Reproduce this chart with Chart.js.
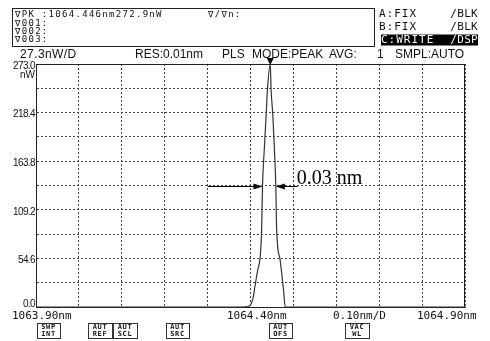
<!DOCTYPE html>
<html>
<head>
<meta charset="utf-8">
<script src="https://cdn.jsdelivr.net/npm/chart.js@4/dist/chart.umd.min.js"></script>
<style>
  html, body { margin: 0; background: #fff; }
  #wrap { width: 490px; height: 341px; }
</style>
</head>
<body>
<div id="wrap"><canvas id="osaChart"></canvas></div>
<script>
// spectrum trace (nm, nW)
const wavelengthNm = [1063.90, 1064.38, 1064.395, 1064.399, 1064.405, 1064.411, 1064.417, 1064.4225, 1064.426, 1064.428,
  1064.4325, 1064.4365, 1064.4395, 1064.446, 1064.448, 1064.452, 1064.4555, 1064.459, 1064.461, 1064.469,
  1064.477, 1064.481, 1064.90];
const powerNW = [0, 0, 0.5, 2, 8, 25, 42, 56, 88, 136,
  180, 216, 244, 272.9, 244, 216, 180, 136, 86, 53,
  19, 0, 0];

const xGridNm = [1063.90, 1064.00, 1064.10, 1064.20, 1064.30, 1064.40, 1064.50, 1064.60, 1064.70, 1064.80, 1064.90];
const yGridNW = [0, 27.3, 54.6, 81.9, 109.2, 136.5, 163.8, 191.1, 218.4, 245.7, 273.0];
const yTickValues = [0, 54.6, 109.2, 163.8, 218.4, 273.0];
const yTickLabels = ["0.0", "54.6", "109.2", "163.8", "218.4", "273.0"];
const xTickLabels = ["1063.90nm", "1064.40nm", "0.10nm/D", "1064.90nm"];

const peakNm = 1064.446;
const halfMaxNW = 136.5;
const fwhmLeftNm = 1064.428;
const fwhmRightNm = 1064.459;
const fwhmText = "0.03 nm";

const MONO = '"DejaVu Sans Mono", monospace';
const SANS = '"Liberation Sans", Arial, sans-serif';

function txt(ctx, s, x, y, font, opts = {}) {
  ctx.save();
  ctx.font = font;
  ctx.fillStyle = opts.color || "#111";
  ctx.textAlign = opts.align || "left";
  ctx.textBaseline = opts.baseline || "middle";
  ctx.letterSpacing = opts.spacing || "0px";
  ctx.fillText(s, x, y);
  ctx.restore();
}

function arrowHead(ctx, x, y, dir) {
  ctx.beginPath();
  ctx.moveTo(x, y);
  ctx.lineTo(x - dir * 9, y - 3);
  ctx.lineTo(x - dir * 9, y + 3);
  ctx.closePath();
  ctx.fill();
}

const screenPlugin = {
  id: "screen",
  afterDraw(chart) {
    const { ctx, chartArea: a, scales: { x: xs, y: ys } } = chart;
    ctx.save();

    // frame round the plot
    ctx.strokeStyle = "#222";
    ctx.lineWidth = 1;
    ctx.strokeRect(a.left + 0.5, a.top + 0.5, a.right - a.left - 1, a.bottom - a.top);

    // header box
    ctx.strokeRect(12.5, 8.5, 362, 38);
    const small = "9px " + MONO;
    txt(ctx, "\u2207PK :1064.446nm272.9nW", 15, 15, small, { spacing: "1.3px" });
    txt(ctx, "\u2207001:", 15, 23.5, small, { spacing: "1.3px" });
    txt(ctx, "\u2207002:", 15, 31.5, small, { spacing: "1.3px" });
    txt(ctx, "\u2207003:", 15, 39.5, small, { spacing: "1.3px" });
    txt(ctx, "\u2207/\u2207n:", 208, 15, small, { spacing: "1.3px" });

    const trace = "11px " + MONO;
    txt(ctx, "A:FIX", 379, 14, trace, { spacing: "1px" });
    txt(ctx, "/BLK", 478, 14, trace, { align: "right", spacing: "0.3px" });
    txt(ctx, "B:FIX", 379, 27, trace, { spacing: "1px" });
    txt(ctx, "/BLK", 478, 27, trace, { align: "right", spacing: "0.3px" });
    ctx.fillStyle = "#000";
    ctx.fillRect(381, 34.5, 97, 11);
    txt(ctx, "C:WRITE", 381, 40, trace, { color: "#fff", spacing: "1px" });
    txt(ctx, "/DSP", 478, 40, trace, { align: "right", color: "#fff", spacing: "0.3px" });

    // settings row
    const row = "12px " + SANS;
    txt(ctx, "27.3nW/D", 20, 55, row, { spacing: "0.4px" });
    txt(ctx, "RES:0.01nm", 135, 55, row);
    txt(ctx, "PLS", 222, 55, row);
    txt(ctx, "MODE:PEAK", 252, 55, row);
    txt(ctx, "AVG:", 329, 55, row);
    txt(ctx, "1", 377, 55, row);
    txt(ctx, "SMPL:AUTO", 395, 55, row);

    // y labels
    const yl = "10px " + SANS;
    yTickValues.forEach((v, i) => {
      txt(ctx, yTickLabels[i], a.left - 1, ys.getPixelForValue(v) + (i === 0 ? -3 : 2), yl, { align: "right", spacing: "-0.6px" });
    });
    txt(ctx, "nW", a.left - 1, a.top + 11, yl, { align: "right" });

    // x labels
    const xl = "11px " + MONO;
    const xLabelLeft = [12, 227, 333, 417];
    xTickLabels.forEach((s, i) => txt(ctx, s, xLabelLeft[i], 316.5, xl));

    // soft keys
    const keys = [["SWP", "INT", 37, 60], ["AUT", "REF", 88, 112], ["AUT", "SCL", 113, 137],
      ["AUT", "SRC", 166, 189], ["AUT", "OFS", 269, 292], ["VAC", "WL", 345, 369]];
    ctx.strokeStyle = "#333";
    keys.forEach(([t1, t2, x0, x1]) => {
      ctx.strokeRect(x0 + 0.5, 323.5, x1 - x0, 15);
      const cx = (x0 + x1) / 2;
      txt(ctx, t1, cx, 327.5, "bold 7px " + MONO, { align: "center", spacing: "0.6px" });
      txt(ctx, t2, cx, 334.5, "bold 7px " + MONO, { align: "center", spacing: "0.6px" });
    });

    // peak marker
    const px = xs.getPixelForValue(peakNm);
    ctx.fillStyle = "#000";
    ctx.beginPath();
    ctx.moveTo(px - 3.5, a.top - 6);
    ctx.lineTo(px + 3.5, a.top - 6);
    ctx.lineTo(px, a.top + 1);
    ctx.closePath();
    ctx.fill();

    // FWHM annotation
    const hy = Math.round(ys.getPixelForValue(halfMaxNW)) + 0.5;
    const l = xs.getPixelForValue(fwhmLeftNm);
    const r = xs.getPixelForValue(fwhmRightNm);
    ctx.strokeStyle = "#000";
    ctx.lineWidth = 1.2;
    ctx.beginPath();
    ctx.moveTo(xs.getPixelForValue(1064.30), hy);
    ctx.lineTo(l - 4, hy);
    ctx.moveTo(r + 4, hy);
    ctx.lineTo(xs.getPixelForValue(1064.51), hy);
    ctx.stroke();
    arrowHead(ctx, l, hy, 1);
    arrowHead(ctx, r, hy, -1);
    txt(ctx, fwhmText, xs.getPixelForValue(1064.508), hy - 3, '20px "Liberation Serif", "Times New Roman", serif', { baseline: "alphabetic", color: "#000" });

    ctx.restore();
  }
};

new Chart(document.getElementById("osaChart"), {
  type: "line",
  data: {
    datasets: [{
      data: wavelengthNm.map((x, i) => ({ x, y: powerNW[i] })),
      borderColor: "#333",
      borderWidth: 1.2,
      pointRadius: 0,
      cubicInterpolationMode: "monotone",
      fill: false
    }]
  },
  options: {
    responsive: true,
    maintainAspectRatio: false,
    animation: false,
    layout: { padding: { left: 36, right: 25, top: 64, bottom: 34 } },
    plugins: { legend: { display: false }, tooltip: { enabled: false } },
    scales: {
      x: {
        type: "linear", min: 1063.90, max: 1064.90,
        afterBuildTicks: (s) => { s.ticks = xGridNm.map((v) => ({ value: v })); },
        ticks: { display: false, padding: 0 },
        grid: { color: "#444", lineWidth: 1, drawTicks: false },
        border: { color: "#222", width: 1, dash: [2, 2] }
      },
      y: {
        min: 0, max: 273.0,
        afterBuildTicks: (s) => { s.ticks = yGridNW.map((v) => ({ value: v })); },
        ticks: { display: false, padding: 0 },
        grid: { color: "#444", lineWidth: 1, drawTicks: false },
        border: { color: "#222", width: 1, dash: [2, 2] }
      }
    }
  },
  plugins: [screenPlugin]
});
</script>
</body>
</html>
